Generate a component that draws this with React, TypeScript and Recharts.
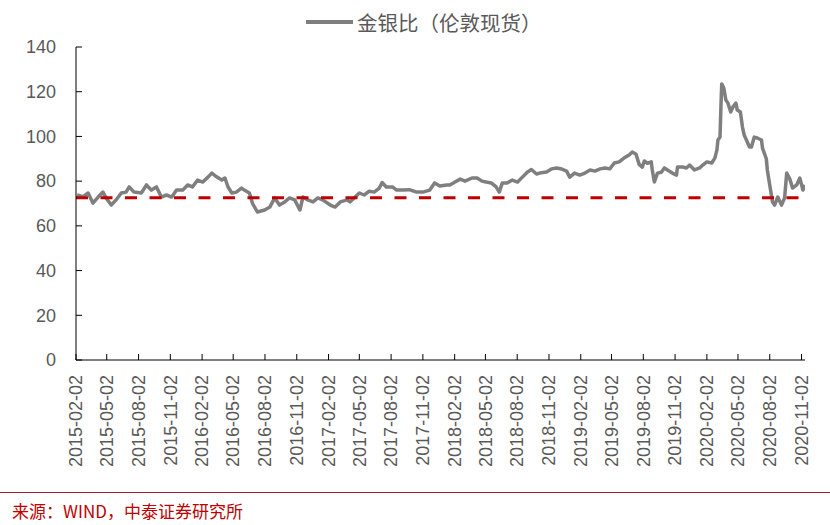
import React from 'react';
import { LineChart, Line, XAxis, YAxis, ReferenceLine, Legend } from 'recharts';

const dates = [
  '2015-02-05','2015-02-22','2015-03-09','2015-03-23','2015-04-07','2015-04-21','2015-04-30','2015-05-15','2015-05-29','2015-06-13',
  '2015-06-27','2015-07-06','2015-07-20','2015-08-10','2015-08-25','2015-09-08','2015-09-23','2015-10-07','2015-10-22','2015-11-06',
  '2015-11-20','2015-12-08','2015-12-22','2016-01-05','2016-01-20','2016-02-04','2016-02-19','2016-03-01','2016-03-16','2016-03-30',
  '2016-04-08','2016-04-17','2016-04-28','2016-05-11','2016-05-26','2016-06-03','2016-06-18','2016-06-27','2016-07-11','2016-08-01',
  '2016-08-16','2016-08-30','2016-09-13','2016-09-28','2016-10-12','2016-10-27','2016-11-11','2016-11-20','2016-12-04','2016-12-19',
  '2017-01-02','2017-01-16','2017-02-07','2017-02-21','2017-03-08','2017-03-28','2017-04-05','2017-04-20','2017-05-02','2017-05-16',
  '2017-05-31','2017-06-14','2017-06-29','2017-07-07','2017-07-19','2017-08-06','2017-08-18','2017-09-04','2017-09-24','2017-10-15',
  '2017-11-02','2017-11-22','2017-12-06','2017-12-21','2018-01-10','2018-01-19','2018-02-03','2018-02-18','2018-03-04','2018-03-24',
  '2018-04-08','2018-04-22','2018-05-04','2018-05-19','2018-06-02','2018-06-11','2018-06-20','2018-07-04','2018-07-19','2018-08-03',
  '2018-08-17','2018-09-01','2018-09-12','2018-09-27','2018-10-11','2018-10-26','2018-11-10','2018-11-24','2018-12-09','2018-12-23',
  '2019-01-01','2019-01-15','2019-01-30','2019-02-14','2019-03-01','2019-03-15','2019-03-30','2019-04-13','2019-04-27','2019-05-10',
  '2019-05-24','2019-06-07','2019-06-22','2019-07-01','2019-07-12','2019-07-21','2019-07-30','2019-08-05','2019-08-14','2019-08-25',
  '2019-08-28','2019-09-03','2019-09-12','2019-09-23','2019-10-02','2019-10-11','2019-10-25','2019-11-06','2019-11-09','2019-11-24',
  '2019-12-05','2019-12-14','2019-12-28','2020-01-12','2020-01-21','2020-02-02','2020-02-16','2020-02-25','2020-03-02','2020-03-05',
  '2020-03-11','2020-03-14','2020-03-16','2020-03-22','2020-03-28','2020-04-03','2020-04-11','2020-04-17','2020-04-26','2020-04-30',
  '2020-05-09','2020-05-15','2020-05-20','2020-05-29','2020-06-04','2020-06-10','2020-06-18','2020-06-27','2020-07-09','2020-07-12',
  '2020-07-23','2020-07-26','2020-08-01','2020-08-10','2020-08-16','2020-08-25','2020-09-05','2020-09-14','2020-09-20','2020-09-29',
  '2020-10-07','2020-10-19','2020-10-28','2020-11-06','2020-11-12',
];

// 金银比（伦敦现货）
const goldSilverRatio = [
  73.8, 73.0, 74.7, 70.2, 72.9, 75.1, 72.5, 69.3, 71.6, 74.7,
  75.1, 77.4, 75.1, 74.7, 78.3, 76.0, 77.4, 72.9, 73.8, 72.9,
  76.0, 76.0, 78.3, 77.4, 80.5, 79.6, 81.8, 83.6, 81.8, 80.5,
  81.4, 77.4, 74.7, 75.1, 76.9, 76.0, 74.7, 70.0, 66.2, 67.1,
  68.4, 72.5, 69.3, 70.7, 72.5, 71.6, 67.1, 72.9, 71.6, 70.7,
  72.5, 71.6, 69.3, 68.4, 70.7, 71.6, 70.7, 72.9, 74.7, 73.8,
  75.5, 75.1, 76.9, 79.4, 77.4, 77.4, 76.0, 76.0, 76.2, 75.1,
  75.1, 76.0, 79.2, 77.8, 78.3, 78.3, 79.6, 80.9, 80.0, 81.4,
  81.4, 80.0, 79.6, 79.2, 77.4, 75.1, 79.2, 79.2, 80.5, 79.6,
  81.8, 84.1, 85.2, 83.2, 83.8, 84.1, 85.5, 85.9, 85.4, 84.5,
  81.8, 83.6, 82.7, 83.6, 85.0, 84.5, 85.5, 85.9, 85.5, 88.1,
  88.6, 90.3, 91.7, 93.0, 92.0, 87.5, 86.3, 89.0, 88.0, 88.6,
  85.0, 79.6, 83.6, 84.0, 85.9, 85.0, 83.6, 82.7, 86.3, 86.3,
  85.9, 87.2, 85.0, 85.9, 87.2, 88.6, 88.1, 90.3, 93.9, 98.4,
  99.7, 114.9, 123.5, 121.6, 116.3, 114.9, 110.9, 113.1, 114.9, 111.8,
  110.9, 104.2, 100.6, 97.5, 95.3, 95.3, 99.7, 99.3, 98.4, 94.8,
  90.0, 85.0, 79.2, 70.7, 69.3, 72.9, 69.3, 72.5, 83.6, 81.0,
  76.9, 78.3, 81.4, 76.0, 78.3,
];

const quarterTicks = [
  '2015-02-02','2015-05-02','2015-08-02','2015-11-02','2016-02-02','2016-05-02','2016-08-02','2016-11-02',
  '2017-02-02','2017-05-02','2017-08-02','2017-11-02','2018-02-02','2018-05-02','2018-08-02','2018-11-02',
  '2019-02-02','2019-05-02','2019-08-02','2019-11-02','2020-02-02','2020-05-02','2020-08-02','2020-11-02',
];
const yTicks = [0, 20, 40, 60, 80, 100, 120, 140];
const averageLevel = 72.6;
const axisStart = '2015-02-02';
const axisEnd = '2020-11-12';
const seriesName = '金银比（伦敦现货）';
const sourceText = '来源：WIND，中泰证券研究所';

const DAY = 86400000;
const toDay = (s: string) => {
  const [y, m, d] = s.split('-').map(Number);
  return Date.UTC(y, m - 1, d) / DAY;
};

const data = dates.map((d, i) => ({ t: toDay(d), date: d, ratio: goldSilverRatio[i] }));
const tickDays = quarterTicks.map(toDay);
const labelByDay = new Map<number, string>(tickDays.map((t, i) => [t, quarterTicks[i]]));

const FONT = '"Liberation Sans", Arial, sans-serif';

const XTick = (props: any) => {
  const { x, y, payload } = props;
  return (
    <text
      x={x}
      y={y}
      transform={`rotate(-90, ${x}, ${y})`}
      textAnchor="end"
      dy="0.35em"
      fill="#595959"
      fontSize={18}
      fontFamily={FONT}
    >
      {labelByDay.get(payload.value)}
    </text>
  );
};

const YTick = (props: any) => {
  const { x, y, payload } = props;
  return (
    <text x={x} y={y} textAnchor="end" dy="0.35em" fill="#595959" fontSize={18} fontFamily={FONT}>
      {payload.value}
    </text>
  );
};

const LegendContent = () => (
  <div style={{ height: 42, position: 'relative', width: 805 }}>
    <div
      style={{
        position: 'absolute',
        left: 306,
        top: 5,
        height: 24,
        display: 'flex',
        alignItems: 'center',
        whiteSpace: 'nowrap',
      }}
    >
      <span style={{ display: 'inline-block', width: 47, height: 4, background: '#7F7F7F', marginRight: 4 }} />
      <span style={{ fontSize: 20.5, color: '#595959', fontFamily: '"Noto Sans CJK SC", sans-serif', lineHeight: '24px' }}>
        {seriesName}
      </span>
    </div>
  </div>
);

export default function App() {
  return (
    <div style={{ position: 'absolute', left: 0, top: 0, width: 830, height: 525, background: '#fff' }}>
      <LineChart width={830} height={525} data={data} margin={{ top: 5, right: 25, bottom: 0, left: 0 }}>
        <Legend verticalAlign="top" align="left" content={LegendContent} />
        <XAxis
          dataKey="t"
          type="number"
          domain={[toDay(axisStart), toDay(axisEnd)]}
          ticks={tickDays}
          interval={0}
          allowDataOverflow
          height={165}
          tickSize={-6}
          tickMargin={21}
          axisLine={{ stroke: '#000', strokeWidth: 1 }}
          tickLine={{ stroke: '#000', strokeWidth: 1 }}
          tick={<XTick />}
        />
        <YAxis
          type="number"
          domain={[0, 140]}
          ticks={yTicks}
          interval={0}
          width={76}
          tickSize={-6}
          tickMargin={26}
          axisLine={{ stroke: '#000', strokeWidth: 1 }}
          tickLine={{ stroke: '#000', strokeWidth: 1 }}
          tick={<YTick />}
        />
        <Line
          type="linear"
          dataKey="ratio"
          name={seriesName}
          stroke="#7F7F7F"
          strokeWidth={3.5}
          strokeLinejoin="round"
          dot={false}
          activeDot={false}
          isAnimationActive={false}
        />
        <ReferenceLine y={averageLevel} stroke="#C00000" strokeWidth={3} strokeDasharray="12 12.5" />
      </LineChart>
      <div style={{ position: 'absolute', left: 0, top: 492, width: 830, height: 1, background: '#9E1B32' }} />
      <div
        style={{
          position: 'absolute',
          left: 12,
          top: 500,
          fontSize: 17,
          lineHeight: '22px',
          color: '#C00000',
          fontFamily: '"Noto Sans CJK SC", sans-serif',
          whiteSpace: 'nowrap',
        }}
      >
        {sourceText}
      </div>
    </div>
  );
}
